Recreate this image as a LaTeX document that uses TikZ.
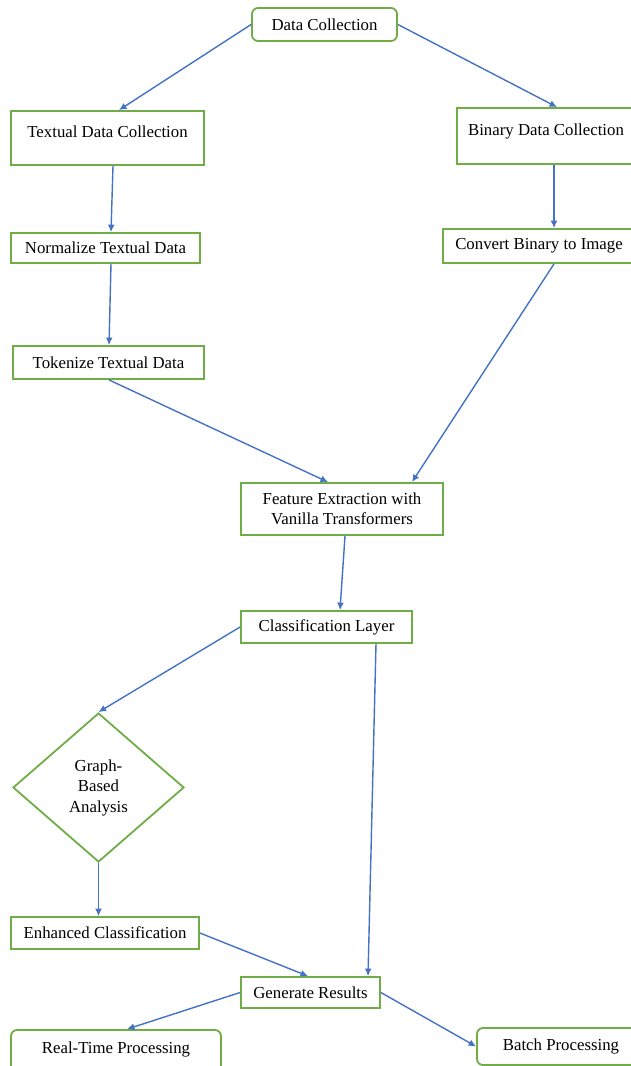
\documentclass[tikz,border=0pt]{standalone}
\usepackage{fontspec}
\setmainfont{Liberation Serif}
\usetikzlibrary{arrows.meta,calc,shapes.geometric}
\definecolor{boxgreen}{HTML}{70AD47}
\definecolor{arrblue}{HTML}{4472C4}
\begin{document}
\begin{tikzpicture}[x=1pt,y=-1pt,
  box/.style={draw=boxgreen,line width=1.8pt,fill=white,inner sep=0pt,align=center,
    font=\fontsize{16.8}{20.5}\selectfont},
  rbox/.style={box,rounded corners=6pt},
  dia/.style={box,diamond},
  arr/.style={draw=arrblue,line width=1.4pt,-{Latex[length=7.5pt,width=7pt]}}]
\useasboundingbox[fill=white] (0,0) rectangle (631,1066);
% nodes
\node[rbox,minimum width=145pt,minimum height=33pt] (dc) at (324.5,24.5) {Data Collection};
\node[box,minimum width=193pt,minimum height=54pt,text height=26pt,text depth=28pt] (tdc) at (107.5,138) {Textual Data Collection};
\node[box,minimum width=188pt,minimum height=56pt,text height=27pt,text depth=29pt] (bdc) at (551,136) {\hspace*{-10pt}Binary Data Collection};
\node[box,minimum width=189pt,minimum height=30pt] (nrm) at (105.5,248) {Normalize Textual Data};
\node[box,minimum width=202pt,minimum height=34pt] (cbi) at (544,246) {\hspace*{-10pt}Convert Binary to Image};
\node[box,minimum width=191pt,minimum height=33pt] (tok) at (108.5,362.5) {Tokenize Textual Data};
\node[box,minimum width=202pt,minimum height=52pt] (fe) at (342,509) {Feature Extraction with\\Vanilla Transformers};
\node[box,minimum width=171pt,minimum height=32pt] (cl) at (326.5,627) {Classification Layer};
\node[dia,minimum width=171pt,minimum height=149pt] (ga) at (98.5,787.5) {Graph-\\Based\\Analysis};
\node[box,minimum width=188pt,minimum height=32pt] (enh) at (105,933) {Enhanced Classification};
\node[box,minimum width=139pt,minimum height=31pt] (gr) at (310.5,992.5) {Generate Results};
\node[rbox,minimum width=210pt,minimum height=45pt,text height=23pt,text depth=22pt] (rt) at (116,1052.5) {Real-Time Processing};
\node[rbox,minimum width=168pt,minimum height=37pt] (bp) at (561,1046.5) {Batch Processing};
% connectors
\draw[arr] (dc.west) -- ($(tdc.north)+(11.5,0)$);
\draw[arr] (dc.east) -- ($(bdc.north)+(6,0)$);
\draw[arr] ($(tdc.south)+(5.5,0)$) -- ($(nrm.north)+(5.5,0)$);
\draw[arr] ($(bdc.south)+(3,0)$) -- ($(cbi.north)+(10,0)$);
\draw[arr] ($(nrm.south)+(5.5,0)$) -- ($(tok.north)+(0.5,0)$);
\draw[arr] ($(cbi.south)+(10,0)$) -- ($(fe.north)+(70,0)$);
\draw[arr] ($(tok.south)+(0.5,0)$) -- ($(fe.north)+(-14,0)$);
\draw[arr] ($(fe.south)+(3,0)$) -- ($(cl.north)+(13.5,0)$);
\draw[arr] (cl.west) -- (ga.north);
\draw[arr] ($(cl.south)+(49.5,0)$) -- ($(gr.north)+(57.5,0)$);
\draw[arr] (ga.south) -- ($(enh.north)+(-6.5,0)$);
\draw[arr] (enh.east) -- ($(gr.north)+(-2.5,0)$);
\draw[arr] (gr.west) -- ($(rt.north)+(11,0)$);
\draw[arr] (gr.east) -- (bp.west);
\end{tikzpicture}
\end{document}
